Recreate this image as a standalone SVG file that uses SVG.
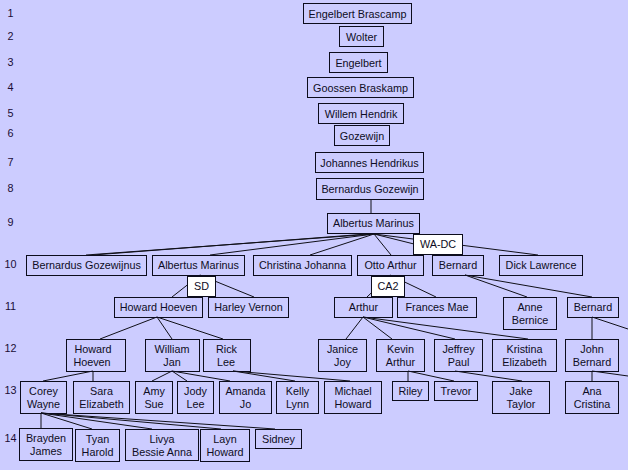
<svg xmlns="http://www.w3.org/2000/svg" width="628" height="470" viewBox="0 0 628 470">
<style>
.b{fill:none;stroke:#0c0c1c;stroke-width:1}
.w{fill:#ffffff;stroke:#0c0c1c;stroke-width:1}
text{font-family:"Liberation Sans",Arial,sans-serif;font-size:10.8px;fill:#0e0c24;text-anchor:middle}
.lab text{fill:#1a0c36}
#connectors line{stroke:#101018;stroke-width:1}
</style>
<rect x="0" y="0" width="628" height="470" fill="#ccccff"/>
<g class="lab" id="row-labels">
<text x="10.5" y="17">1</text>
<text x="10.5" y="40">2</text>
<text x="10.5" y="66">3</text>
<text x="10.5" y="91">4</text>
<text x="10.5" y="117">5</text>
<text x="10.5" y="137">6</text>
<text x="10.5" y="166">7</text>
<text x="10.5" y="192">8</text>
<text x="10.5" y="226">9</text>
<text x="10.5" y="268">10</text>
<text x="10.5" y="310">11</text>
<text x="10.5" y="352">12</text>
<text x="10.5" y="394">13</text>
<text x="10.5" y="442">14</text>
</g>
<g id="connectors">
<line x1="371" y1="199" x2="371" y2="213"/>
<line x1="374" y1="234" x2="86" y2="255"/>
<line x1="367" y1="234" x2="93" y2="255"/>
<line x1="374" y1="234" x2="210" y2="255"/>
<line x1="374" y1="234" x2="310" y2="255"/>
<line x1="374" y1="234" x2="391" y2="255"/>
<line x1="374" y1="234" x2="458" y2="255"/>
<line x1="374" y1="234" x2="538" y2="255"/>
<line x1="200" y1="275" x2="172" y2="297"/>
<line x1="200" y1="275" x2="254" y2="297"/>
<line x1="390" y1="275" x2="367" y2="297"/>
<line x1="390" y1="275" x2="436" y2="297"/>
<line x1="465" y1="275" x2="527" y2="297"/>
<line x1="465" y1="275" x2="592" y2="297"/>
<line x1="157" y1="317" x2="100" y2="339"/>
<line x1="157" y1="317" x2="172" y2="339"/>
<line x1="157" y1="317" x2="223" y2="339"/>
<line x1="363" y1="317" x2="346" y2="339"/>
<line x1="363" y1="317" x2="392" y2="339"/>
<line x1="363" y1="317" x2="455" y2="339"/>
<line x1="363" y1="317" x2="528" y2="339"/>
<line x1="592" y1="317" x2="592" y2="339"/>
<line x1="592" y1="317" x2="628" y2="329"/>
<line x1="93" y1="371" x2="43" y2="381"/>
<line x1="93" y1="371" x2="93" y2="381"/>
<line x1="172" y1="371" x2="152" y2="381"/>
<line x1="172" y1="371" x2="187" y2="381"/>
<line x1="172" y1="371" x2="230" y2="381"/>
<line x1="233" y1="371" x2="295" y2="381"/>
<line x1="233" y1="371" x2="350" y2="381"/>
<line x1="408" y1="371" x2="408" y2="381"/>
<line x1="408" y1="371" x2="454" y2="381"/>
<line x1="455" y1="371" x2="522" y2="381"/>
<line x1="592" y1="371" x2="592" y2="381"/>
<line x1="592" y1="371" x2="628" y2="376"/>
<line x1="41" y1="413" x2="41" y2="428"/>
<line x1="41" y1="413" x2="92" y2="429"/>
<line x1="41" y1="413" x2="152" y2="429"/>
<line x1="41" y1="413" x2="221" y2="429"/>
<line x1="41" y1="413" x2="275" y2="429"/>
</g>
<g id="n-engelbert-brascamp"><rect class="b" x="303.5" y="3.5" width="108" height="20"/><text x="357.5" y="17.5">Engelbert Brascamp</text></g>
<g id="n-wolter"><rect class="b" x="339.5" y="26.5" width="44" height="20"/><text x="361.5" y="40.5">Wolter</text></g>
<g id="n-engelbert"><rect class="b" x="329.5" y="52.5" width="58" height="20"/><text x="358.5" y="66.5">Engelbert</text></g>
<g id="n-goossen-braskamp"><rect class="b" x="307.5" y="77.5" width="106" height="20"/><text x="360.5" y="91.5">Goossen Braskamp</text></g>
<g id="n-willem-hendrik"><rect class="b" x="318.5" y="103.5" width="85" height="20"/><text x="361" y="117.5">Willem Hendrik</text></g>
<g id="n-gozewijn"><rect class="b" x="334.5" y="125.5" width="55" height="20"/><text x="362" y="139.5">Gozewijn</text></g>
<g id="n-johannes-hendrikus"><rect class="b" x="315.5" y="152.5" width="108" height="20"/><text x="369.5" y="166.5">Johannes Hendrikus</text></g>
<g id="n-bernardus-gozewijn"><rect class="b" x="316.5" y="178.5" width="107" height="21"/><text x="370" y="192.5">Bernardus Gozewijn</text></g>
<g id="n-albertus-marinus"><rect class="b" x="327.5" y="213.5" width="92" height="20"/><text x="373.5" y="227">Albertus Marinus</text></g>
<g id="n-bernardus-gozewijnus"><rect class="b" x="26.5" y="255.5" width="120" height="20"/><text x="86.5" y="268.5">Bernardus Gozewijnus</text></g>
<g id="n-albertus-marinus-2"><rect class="b" x="152.5" y="255.5" width="92" height="20"/><text x="198.5" y="268.5">Albertus Marinus</text></g>
<g id="n-christina-johanna"><rect class="b" x="253.5" y="255.5" width="98" height="20"/><text x="302.5" y="268.5">Christina Johanna</text></g>
<g id="n-otto-arthur"><rect class="b" x="357.5" y="255.5" width="66" height="20"/><text x="390.5" y="268.5">Otto Arthur</text></g>
<g id="n-bernard"><rect class="b" x="432.5" y="255.5" width="51" height="20"/><text x="458" y="268.5">Bernard</text></g>
<g id="n-dick-lawrence"><rect class="b" x="499.5" y="255.5" width="83" height="20"/><text x="541" y="268.5">Dick Lawrence</text></g>
<g id="lbl-wa-dc"><rect class="w" x="413.5" y="234.5" width="49" height="20"/><text x="438" y="248">WA-DC</text></g>
<g id="lbl-sd"><rect class="w" x="187.5" y="276.5" width="28" height="20"/><text x="201.5" y="290">SD</text></g>
<g id="lbl-ca2"><rect class="w" x="371.5" y="276.5" width="33" height="20"/><text x="388" y="290">CA2</text></g>
<g id="n-howard-hoeven"><rect class="b" x="114.5" y="297.5" width="88" height="20"/><text x="158.5" y="310.5">Howard Hoeven</text></g>
<g id="n-harley-vernon"><rect class="b" x="208.5" y="297.5" width="80" height="20"/><text x="248.5" y="310.5">Harley Vernon</text></g>
<g id="n-arthur"><rect class="b" x="334.5" y="297.5" width="58" height="20"/><text x="363.5" y="310.5">Arthur</text></g>
<g id="n-frances-mae"><rect class="b" x="397.5" y="297.5" width="79" height="20"/><text x="437" y="310.5">Frances Mae</text></g>
<g id="n-anne-bernice"><rect class="b" x="503.5" y="297.5" width="53" height="32"/><text x="530" y="310.5">Anne</text><text x="530" y="323.5">Bernice</text></g>
<g id="n-bernard-2"><rect class="b" x="567.5" y="297.5" width="51" height="20"/><text x="593" y="310.5">Bernard</text></g>
<g id="n-howard-hoeven-2"><rect class="b" x="66.5" y="339.5" width="59" height="32"/><text x="93" y="352.5">Howard</text><text x="92" y="365.5">Hoeven</text></g>
<g id="n-william-jan"><rect class="b" x="145.5" y="339.5" width="54" height="32"/><text x="172" y="352.5">William</text><text x="172" y="365.5">Jan</text></g>
<g id="n-rick-lee"><rect class="b" x="203.5" y="339.5" width="47" height="32"/><text x="226.5" y="352.5">Rick</text><text x="226" y="365.5">Lee</text></g>
<g id="n-janice-joy"><rect class="b" x="318.5" y="339.5" width="48" height="32"/><text x="342.5" y="352.5">Janice</text><text x="342.5" y="365.5">Joy</text></g>
<g id="n-kevin-arthur"><rect class="b" x="376.5" y="339.5" width="48" height="32"/><text x="400.5" y="352.5">Kevin</text><text x="400.5" y="365.5">Arthur</text></g>
<g id="n-jeffrey-paul"><rect class="b" x="434.5" y="339.5" width="48" height="32"/><text x="458.5" y="352.5">Jeffrey</text><text x="458.5" y="365.5">Paul</text></g>
<g id="n-kristina-elizabeth"><rect class="b" x="492.5" y="339.5" width="64" height="32"/><text x="524.5" y="352.5">Kristina</text><text x="524.5" y="365.5">Elizabeth</text></g>
<g id="n-john-bernard"><rect class="b" x="565.5" y="339.5" width="53" height="32"/><text x="592" y="352.5">John</text><text x="592" y="365.5">Bernard</text></g>
<g id="n-corey-wayne"><rect class="b" x="20.5" y="381.5" width="46" height="32"/><text x="43.5" y="394.5">Corey</text><text x="43.5" y="407.5">Wayne</text></g>
<g id="n-sara-elizabeth"><rect class="b" x="73.5" y="381.5" width="56" height="32"/><text x="101.5" y="394.5">Sara</text><text x="101.5" y="407.5">Elizabeth</text></g>
<g id="n-amy-sue"><rect class="b" x="135.5" y="381.5" width="37" height="32"/><text x="154" y="394.5">Amy</text><text x="154" y="407.5">Sue</text></g>
<g id="n-jody-lee"><rect class="b" x="177.5" y="381.5" width="36" height="32"/><text x="195.5" y="394.5">Jody</text><text x="195.5" y="407.5">Lee</text></g>
<g id="n-amanda-jo"><rect class="b" x="219.5" y="381.5" width="52" height="32"/><text x="245.5" y="394.5">Amanda</text><text x="245.5" y="407.5">Jo</text></g>
<g id="n-kelly-lynn"><rect class="b" x="276.5" y="381.5" width="42" height="32"/><text x="297.5" y="394.5">Kelly</text><text x="297.5" y="407.5">Lynn</text></g>
<g id="n-michael-howard"><rect class="b" x="324.5" y="381.5" width="57" height="32"/><text x="353" y="394.5">Michael</text><text x="353" y="407.5">Howard</text></g>
<g id="n-riley"><rect class="b" x="392.5" y="381.5" width="36" height="19"/><text x="410.5" y="394.5">Riley</text></g>
<g id="n-trevor"><rect class="b" x="434.5" y="381.5" width="43" height="19"/><text x="456" y="394.5">Trevor</text></g>
<g id="n-jake-taylor"><rect class="b" x="492.5" y="381.5" width="57" height="32"/><text x="521" y="394.5">Jake</text><text x="521" y="407.5">Taylor</text></g>
<g id="n-ana-cristina"><rect class="b" x="565.5" y="381.5" width="53" height="32"/><text x="592" y="394.5">Ana</text><text x="592" y="407.5">Cristina</text></g>
<g id="n-brayden-james"><rect class="b" x="19.5" y="428.5" width="53" height="32"/><text x="46" y="441.5">Brayden</text><text x="46" y="454.5">James</text></g>
<g id="n-tyan-harold"><rect class="b" x="75.5" y="429.5" width="44" height="32"/><text x="97.5" y="442.5">Tyan</text><text x="97.5" y="455.5">Harold</text></g>
<g id="n-livya-bessie-anna"><rect class="b" x="125.5" y="429.5" width="73" height="31"/><text x="162" y="442.5">Livya</text><text x="162" y="455.5">Bessie Anna</text></g>
<g id="n-layn-howard"><rect class="b" x="200.5" y="429.5" width="49" height="32"/><text x="225" y="442.5">Layn</text><text x="225" y="455.5">Howard</text></g>
<g id="n-sidney"><rect class="b" x="255.5" y="429.5" width="46" height="19"/><text x="278.5" y="442.5">Sidney</text></g>
</svg>
